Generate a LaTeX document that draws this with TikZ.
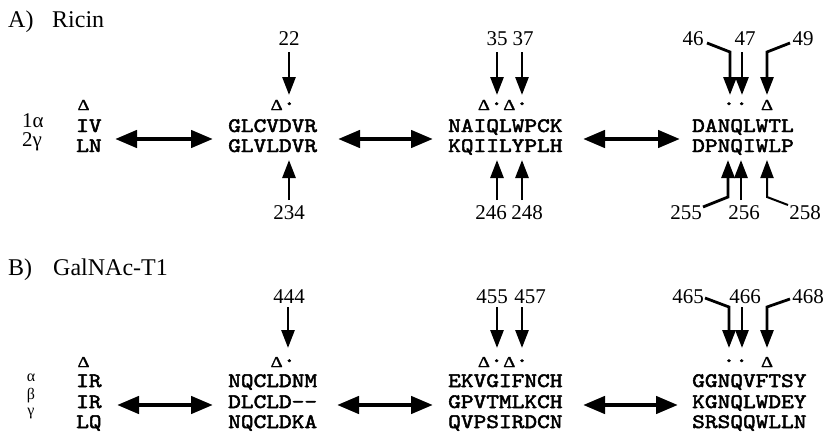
\documentclass[tikz,border=0pt]{standalone}
\usepackage{fontspec}
\usepackage{graphicx}
\setmainfont{Liberation Serif}
\newfontfamily\seqfont{lmmono10-regular}[Extension=.otf, FakeBold=2.4, FakeStretch=1.18]
\newfontfamily\dlfont{Liberation Serif}[FakeBold=1.5]
\usetikzlibrary{arrows.meta}
\newcommand\blk{\phantom{X}}
\newcommand\dl{\makebox[12.7pt]{\resizebox{12pt}{10pt}{\dlfont Δ}}}
\tikzset{
 seq/.style={font=\seqfont\fontsize{20.5}{24}\selectfont, anchor=base west, inner sep=0pt},
 num/.style={font=\fontsize{21}{24}\selectfont, anchor=base, inner sep=0pt},
 ttl/.style={font=\fontsize{24}{26}\selectfont, anchor=base west, inner sep=0pt},
 lbl/.style={font=\fontsize{21}{22}\selectfont, anchor=base west, inner sep=0pt},
 glbl/.style={font=\fontsize{16}{18}\selectfont, anchor=base, inner sep=0pt},
 ptr/.style={line width=2.8pt, -{Triangle[length=18pt,width=13pt]}},
 dbl/.style={line width=4.5pt, {Triangle[length=22pt,width=17pt]}-{Triangle[length=22pt,width=17pt]}},
}
\begin{document}
\begin{tikzpicture}[x=1pt,y=-1pt]
\path[use as bounding box] (0,0) rectangle (828,434);
% ---------- A) Ricin ----------
\node[ttl] (tA) at (8,27) {A)};
\node[ttl] (tAn) at (52,27) {Ricin};
\node[lbl] (l1a) at (22,127) {1α};
\node[lbl] (l2g) at (22,146) {2γ};
\node[seq] (a1d) at (77,110) {\dl};
\node[seq] (a1r1) at (76,132) {IV};
\node[seq] (a1r2) at (76,152) {LN};
\node[seq] (a2d) at (232,110) {\blk\blk\blk\dl·};
\node[seq] (a2r1) at (228,132) {GLCVDVR};
\node[seq] (a2r2) at (228,152) {GLVLDVR};
\node[seq] (a3d) at (452,110) {\blk\blk\dl·\dl·};
\node[seq] (a3r1) at (448,132) {NAIQLWPCK};
\node[seq] (a3r2) at (448,152) {KQIILYPLH};
\node[seq] (a4d) at (697,110) {\blk\blk··\blk\dl};
\node[seq] (a4r1) at (692,132) {DANQLWTL};
\node[seq] (a4r2) at (692,152) {DPNQIWLP};
% numbers
\node[num] (n22) at (289,45) {22};
\node[num] (n35) at (497,45) {35};
\node[num] (n37) at (523,45) {37};
\node[num] (n46) at (693,45) {46};
\node[num] (n47) at (745,45) {47};
\node[num] (n49) at (803,45) {49};
\node[num] (n234) at (289,219) {234};
\node[num] (n246) at (491,219) {246};
\node[num] (n248) at (527,219) {248};
\node[num] (n255) at (686,219) {255};
\node[num] (n256) at (744,219) {256};
\node[num] (n258) at (805,219) {258};
% arrow points
\coordinate (s22) at (289,52);  \coordinate (t22) at (289,95);
\coordinate (s35) at (497,52);  \coordinate (t35) at (497,95);
\coordinate (s37) at (522,52);  \coordinate (t37) at (522,95);
\coordinate (s46) at (707,43);  \coordinate (b46) at (730,52); \coordinate (t46) at (730,95);
\coordinate (s47) at (742,52);  \coordinate (t47) at (742,95);
\coordinate (s49) at (790,43);  \coordinate (b49) at (767,52); \coordinate (t49) at (767,95);
\coordinate (s234) at (289,200); \coordinate (t234) at (289,160);
\coordinate (s246) at (497,200); \coordinate (t246) at (497,160);
\coordinate (s248) at (522,200); \coordinate (t248) at (522,160);
\coordinate (s255) at (703,207); \coordinate (b255) at (728,197); \coordinate (t255) at (728,160);
\coordinate (s256) at (741,200); \coordinate (t256) at (741,160);
\coordinate (s258) at (788,205); \coordinate (b258) at (767,197); \coordinate (t258) at (767,160);
\draw[ptr] (s22) -- (t22);
\draw[ptr] (s35) -- (t35);
\draw[ptr] (s37) -- (t37);
\draw[ptr] (s46) -- (b46) -- (t46);
\draw[ptr] (s47) -- (t47);
\draw[ptr] (s49) -- (b49) -- (t49);
\draw[ptr] (s234) -- (t234);
\draw[ptr] (s246) -- (t246);
\draw[ptr] (s248) -- (t248);
\draw[ptr] (s255) -- (b255) -- (t255);
\draw[ptr] (s256) -- (t256);
\draw[ptr, line width=2pt] (s258) -- (b258) -- (t258);
% double arrows
\coordinate (d1l) at (115,139); \coordinate (d1r) at (213,139);
\coordinate (d2l) at (338,139); \coordinate (d2r) at (433,139);
\coordinate (d3l) at (583,139); \coordinate (d3r) at (680,139);
\draw[dbl] (d1l) -- (d1r);
\draw[dbl] (d2l) -- (d2r);
\draw[dbl] (d3l) -- (d3r);
% ---------- B) GalNAc-T1 ----------
\node[ttl] (tB) at (8,275) {B)};
\node[ttl] (tBn) at (53,275) {GalNAc-T1};
\node[glbl] (ga) at (31,381) {α};
\node[glbl] (gb) at (31,399) {β};
\node[glbl] (gg) at (31,415) {γ};
\node[seq] (b1d) at (77,367) {\dl};
\node[seq] (b1r1) at (76,387) {IR};
\node[seq] (b1r2) at (76,408) {IR};
\node[seq] (b1r3) at (76,428) {LQ};
\node[seq] (b2d) at (232,367) {\blk\blk\blk\dl·};
\node[seq] (b2r1) at (228,387) {NQCLDNM};
\node[seq] (b2r2) at (228,408) {DLCLD-{}-};
\node[seq] (b2r3) at (228,428) {NQCLDKA};
\node[seq] (b3d) at (452,367) {\blk\blk\dl·\dl·};
\node[seq] (b3r1) at (448,387) {EKVGIFNCH};
\node[seq] (b3r2) at (448,408) {GPVTMLKCH};
\node[seq] (b3r3) at (448,428) {QVPSIRDCN};
\node[seq] (b4d) at (697,367) {\blk\blk··\blk\dl};
\node[seq] (b4r1) at (692,387) {GGNQVFTSY};
\node[seq] (b4r2) at (692,408) {KGNQLWDEY};
\node[seq] (b4r3) at (692,428) {SRSQQWLLN};
\node[num] (n444) at (289,303) {444};
\node[num] (n455) at (492,303) {455};
\node[num] (n457) at (530,303) {457};
\node[num] (n465) at (688,303) {465};
\node[num] (n466) at (745,303) {466};
\node[num] (n468) at (808,303) {468};
\coordinate (s444) at (288,307); \coordinate (t444) at (288,348);
\coordinate (s455) at (497,307); \coordinate (t455) at (497,348);
\coordinate (s457) at (522,307); \coordinate (t457) at (522,348);
\coordinate (s465) at (705,298); \coordinate (b465) at (729,307); \coordinate (t465) at (729,348);
\coordinate (s466) at (742,307); \coordinate (t466) at (742,348);
\coordinate (s468) at (790,299); \coordinate (b468) at (767,307); \coordinate (t468) at (767,348);
\draw[ptr] (s444) -- (t444);
\draw[ptr] (s455) -- (t455);
\draw[ptr] (s457) -- (t457);
\draw[ptr] (s465) -- (b465) -- (t465);
\draw[ptr] (s466) -- (t466);
\draw[ptr] (s468) -- (b468) -- (t468);
\coordinate (e1l) at (117,405); \coordinate (e1r) at (213,405);
\coordinate (e2l) at (337,405); \coordinate (e2r) at (433,405);
\coordinate (e3l) at (583,405); \coordinate (e3r) at (678,405);
\draw[dbl] (e1l) -- (e1r);
\draw[dbl] (e2l) -- (e2r);
\draw[dbl] (e3l) -- (e3r);
\end{tikzpicture}
\end{document}
